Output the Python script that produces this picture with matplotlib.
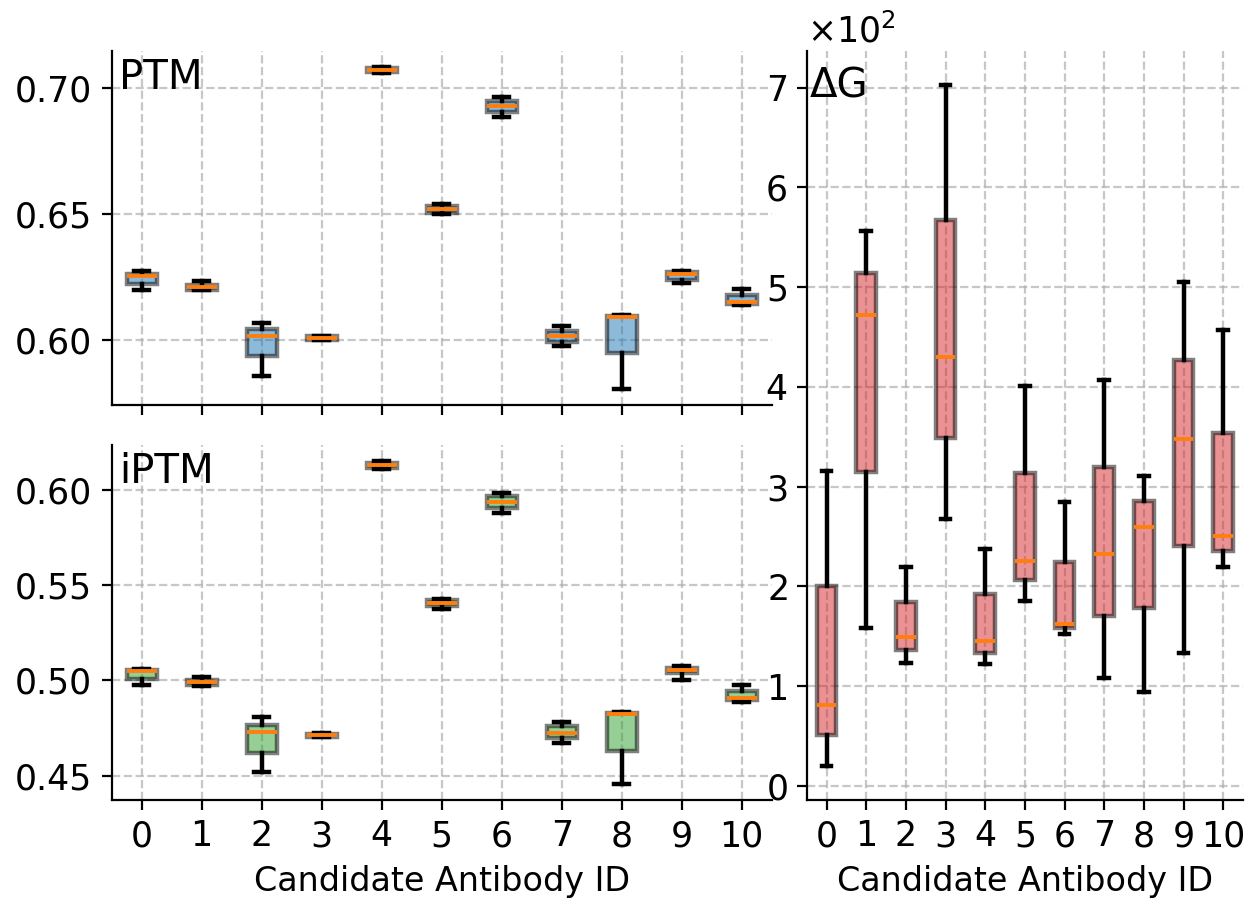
import matplotlib
matplotlib.use("Agg")
import matplotlib.pyplot as plt
from matplotlib.ticker import ScalarFormatter

ids = list(range(11))
xlabel = "Candidate Antibody ID"

# PTM box statistics
ptm_whislo = [0.6198, 0.6198, 0.5861, 0.6001, 0.7059, 0.6502, 0.6885, 0.5976, 0.5808, 0.6228, 0.6142]
ptm_q1     = [0.6225, 0.6201, 0.5939, 0.6003, 0.7062, 0.6506, 0.6905, 0.5993, 0.5950, 0.6241, 0.6146]
ptm_med    = [0.6256, 0.6211, 0.6016, 0.6009, 0.7070, 0.6519, 0.6929, 0.6016, 0.6092, 0.6261, 0.6151]
ptm_q3     = [0.6264, 0.6221, 0.6046, 0.6016, 0.7078, 0.6532, 0.6947, 0.6037, 0.6095, 0.6269, 0.6179]
ptm_whishi = [0.6273, 0.6235, 0.6069, 0.6018, 0.7083, 0.6538, 0.6962, 0.6055, 0.6100, 0.6274, 0.6204]

# iPTM box statistics
iptm_whislo = [0.4974, 0.4972, 0.4521, 0.4701, 0.6115, 0.5376, 0.5882, 0.4673, 0.4456, 0.5005, 0.4889]
iptm_q1     = [0.5007, 0.4974, 0.4621, 0.4705, 0.6120, 0.5390, 0.5908, 0.4696, 0.4631, 0.5037, 0.4896]
iptm_med    = [0.5051, 0.4991, 0.4728, 0.4712, 0.6133, 0.5407, 0.5940, 0.4726, 0.4823, 0.5054, 0.4909]
iptm_q3     = [0.5056, 0.5000, 0.4768, 0.4719, 0.6145, 0.5421, 0.5969, 0.4758, 0.4831, 0.5067, 0.4944]
iptm_whishi = [0.5061, 0.5018, 0.4807, 0.4723, 0.6154, 0.5429, 0.5987, 0.4780, 0.4835, 0.5075, 0.4975]

# Delta G box statistics
dg_whislo = [20, 158, 123, 268, 122, 185, 152, 108, 94, 133, 219]
dg_q1     = [51, 315, 136, 349, 133, 206, 158, 170, 178, 241, 236]
dg_med    = [81, 472, 149, 430, 145, 225, 162, 233, 260, 348, 251]
dg_q3     = [200, 514, 184, 567, 192, 314, 224, 320, 286, 427, 354]
dg_whishi = [316, 556, 219, 703, 238, 401, 285, 407, 311, 505, 457]

plt.rcParams["font.family"] = "DejaVu Sans"
W, H = 1246, 902
fig = plt.figure(figsize=(W / 200, H / 200), dpi=200)

ax_ptm = fig.add_axes([111.7 / W, 1 - 405 / H, (771.7 - 111.7) / W, (405 - 50.7) / H])
ax_iptm = fig.add_axes([111.7 / W, 1 - 800 / H, (771.7 - 111.7) / W, (800 - 445) / H])
ax_dg = fig.add_axes([806.7 / W, 1 - 800 / H, (1243 - 806.7) / W, (800 - 50.7) / H])

TICK = 12.5
LAB = 12


def draw(ax, lo, q1, med, q3, hi, color):
    stats = []
    for i in range(len(ids)):
        stats.append(dict(whislo=lo[i], q1=q1[i], med=med[i], q3=q3[i],
                          whishi=hi[i], fliers=[]))
    bp = ax.bxp(stats, positions=ids, widths=0.5, patch_artist=True,
                showfliers=False,
                boxprops=dict(facecolor=color, edgecolor="black", alpha=0.5, linewidth=1.6),
                whiskerprops=dict(color="black", linewidth=1.6),
                capprops=dict(color="black", linewidth=1.6),
                medianprops=dict(color="#ff7f0e", linewidth=1.4))
    ax.set_xticks(ids)
    ax.set_xticklabels([str(i) for i in ids])
    ax.grid(True, linestyle="--", alpha=0.7)
    for s in ("top", "right"):
        ax.spines[s].set_visible(False)
    ax.tick_params(labelsize=TICK)
    return bp


draw(ax_ptm, ptm_whislo, ptm_q1, ptm_med, ptm_q3, ptm_whishi, "tab:blue")
draw(ax_iptm, iptm_whislo, iptm_q1, iptm_med, iptm_q3, iptm_whishi, "tab:green")
draw(ax_dg, dg_whislo, dg_q1, dg_med, dg_q3, dg_whishi, "tab:red")

ax_ptm.set_xlim(-0.5, 10.5)
ax_iptm.set_xlim(-0.5, 10.5)
ax_dg.set_xlim(-0.5, 10.5)
ax_ptm.tick_params(labelbottom=False)
ax_ptm.set_yticks([0.60, 0.65, 0.70])
ax_iptm.set_yticks([0.45, 0.50, 0.55, 0.60])
ax_iptm.set_xlabel(xlabel, fontsize=LAB)
ax_dg.set_xlabel(xlabel, fontsize=LAB)

fmt = ScalarFormatter(useMathText=True)
fmt.set_powerlimits((0, 0))
ax_dg.yaxis.set_major_formatter(fmt)
ax_dg.yaxis.get_offset_text().set_fontsize(TICK)

fig.text(119 / W, 1 - 89 / H, "PTM", fontsize=14.5, ha="left", va="baseline")
fig.text(119 / W, 1 - 483 / H, "iPTM", fontsize=14.5, ha="left", va="baseline")
fig.text(810 / W, 1 - 97 / H, "ΔG", fontsize=14.5, ha="left", va="baseline")

fig.savefig("out.png", dpi=200)
